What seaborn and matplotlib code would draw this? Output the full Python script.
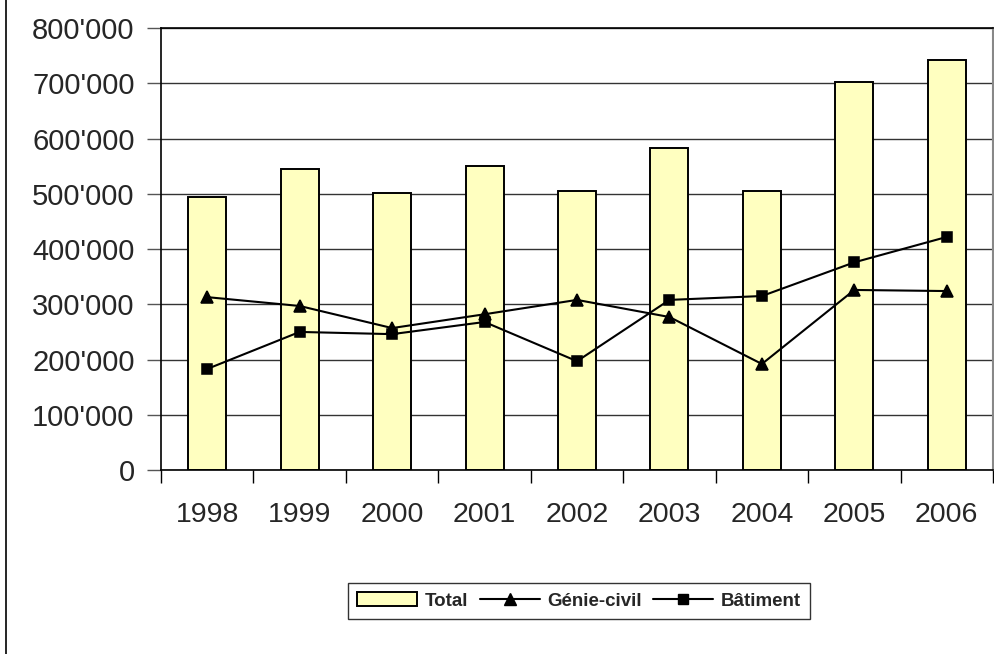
import numpy as np
import pandas as pd
import matplotlib
matplotlib.use('Agg')
import matplotlib.pyplot as plt
import seaborn as sns
from matplotlib.ticker import FuncFormatter, FixedLocator
from matplotlib.patches import Patch
from matplotlib.lines import Line2D

# Valeurs
years = ['1998', '1999', '2000', '2001', '2002', '2003', '2004', '2005', '2006']
total = [494000, 545000, 501000, 550000, 505000, 583000, 505000, 702000, 742000]
genie_civil = [313000, 297000, 257000, 282000, 308000, 277000, 192000, 326000, 324000]
batiment = [183000, 250000, 246000, 268000, 197000, 308000, 315000, 376000, 422000]

df = pd.DataFrame({'annee': years, 'total': total,
                   'genie': genie_civil, 'batiment': batiment})

sns.set_style('white')
plt.rcParams['font.family'] = ['Liberation Sans', 'DejaVu Sans']

fig = plt.figure(figsize=(9.95, 6.54), dpi=100)
ax = fig.add_axes([0.1618, 0.2813, 0.998 - 0.1618, 0.957 - 0.2813])

bar_color = '#FFFFC0'
sns.barplot(data=df, x='annee', y='total', color=bar_color, edgecolor='black',
            linewidth=1.4, width=0.41, saturation=1, ax=ax, zorder=2)

sns.pointplot(data=df, x='annee', y='genie', color='black', markers='^',
              linestyles='-', markersize=9, linewidth=1.5, errorbar=None,
              ax=ax, zorder=4)
sns.pointplot(data=df, x='annee', y='batiment', color='black', markers='s',
              linestyles='-', markersize=7, linewidth=1.5, errorbar=None,
              ax=ax, zorder=4)

ax.set_xlim(-0.5, len(years) - 0.5)
ax.set_ylim(0, 800000)
ax.set_yticks(np.arange(0, 800001, 100000))
ax.yaxis.set_major_formatter(FuncFormatter(lambda v, p: f"{v:,.0f}".replace(',', "'")))
ax.yaxis.grid(True, color='#333333', linewidth=1.0, zorder=0)
ax.set_axisbelow(True)

# graduations x entre les catégories
ax.xaxis.set_minor_locator(FixedLocator(np.arange(-0.5, len(years), 1.0)))
ax.tick_params(axis='x', which='major', length=0, pad=23, labelsize=20.5)
ax.tick_params(axis='x', which='minor', length=9, width=1, color='black',
               direction='out', bottom=True)
ax.tick_params(axis='y', which='major', length=10, width=1, color='#555555',
               direction='out', left=True, pad=9, labelsize=21)

ax.set_xlabel('')
ax.set_ylabel('')

for side in ['left', 'bottom', 'top']:
    ax.spines[side].set_color('black')
    ax.spines[side].set_linewidth(1.2)
ax.spines['right'].set_color('#888888')
ax.spines['right'].set_linewidth(1.5)

handles = [
    Patch(facecolor=bar_color, edgecolor='black', linewidth=1.4),
    Line2D([], [], color='black', marker='^', markersize=9, linewidth=1.5),
    Line2D([], [], color='black', marker='s', markersize=7, linewidth=1.5),
]
labels = ['Total', 'Génie-civil', 'Bâtiment']
leg = fig.legend(handles, labels, loc='center', bbox_to_anchor=(0.582, 0.081),
                 ncol=3, frameon=True, fancybox=False, edgecolor='black',
                 prop={'weight': 'bold', 'size': 13.5}, handlelength=3.2,
                 handleheight=0.7, columnspacing=0.6, handletextpad=0.4,
                 borderpad=0.5)
leg.get_frame().set_linewidth(1.0)

# trait vertical à gauche
fig.add_artist(Line2D([0.006, 0.006], [0, 1], transform=fig.transFigure,
                      color='black', linewidth=1.2))

fig.savefig('out.png', dpi=100)
